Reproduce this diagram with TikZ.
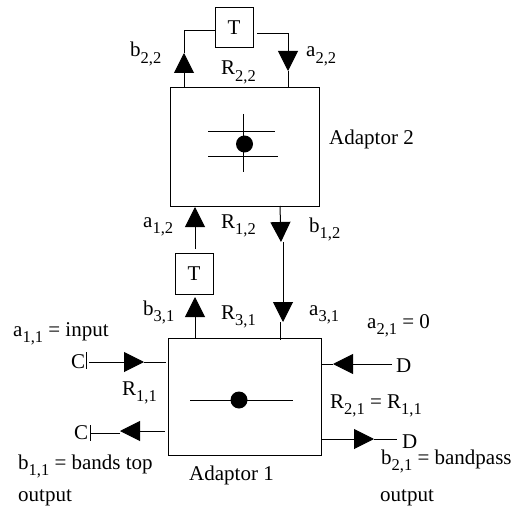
\documentclass[tikz,border=0pt]{standalone}
\usepackage{fontspec}
\setmainfont{Liberation Serif}
\usetikzlibrary{arrows.meta}
\def\subidx#1{\raisebox{-6.5pt}{\fontsize{16.5}{16.5}\selectfont #1}}
\tikzset{
	wire/.style={line width=1pt},
	signal/.style={wire, -{Triangle[length=20pt,width=20pt]}},
	adaptor/.style={draw, line width=1pt, inner sep=0pt, outer sep=0pt},
	delaybox/.style={adaptor, minimum width=38pt, minimum height=40pt, font=\fontsize{21}{21}\selectfont},
	lbl/.style={anchor=base west, inner sep=0pt, font=\fontsize{21}{21}\selectfont},
	hub/.style={circle, fill=black, inner sep=0pt, minimum size=17pt}
}

\begin{document}
\begin{tikzpicture}[x=1pt,y=-1pt]
	\useasboundingbox (0,0) rectangle (511,508);

	\node[adaptor, minimum width=149pt, minimum height=118pt] (adaptor2) at (244.5,147) {};
	\node[adaptor, minimum width=153pt, minimum height=117pt] (adaptor1) at (244.5,396.5) {};
	\node[delaybox] (topdelay) at (234,28) {T};
	\node[delaybox, minimum height=41pt] (middelay) at (194,273.5) {T};

	% top loop
	\coordinate (b22foot) at (184,88);
	\coordinate (b22tip) at (184,53);
	\coordinate (b22corner) at (184,31);
	\coordinate (a22start) at (257,33.5);
	\coordinate (a22corner) at (288,33.5);
	\coordinate (a22tip) at (288,71);
	\coordinate (a22foot) at (288,88);
	\draw[signal] (b22foot) -- (b22tip);
	\draw[wire] (b22tip) -- (b22corner) -- (topdelay.west |- b22corner);
	\draw[signal] (a22start) -- (a22corner) -- (a22tip);
	\draw[wire] (a22tip) -- (a22foot);

	% adaptor 2 symbol
	\node[hub] (hub2) at (244.5,144) {};
	\coordinate (bara) at (208,132);
	\coordinate (barb) at (275,132);
	\coordinate (barc) at (208,156);
	\coordinate (bard) at (278,156);
	\coordinate (bare) at (243,114);
	\coordinate (barf) at (243,172);
	\draw[wire] (bara) -- (barb);
	\draw[wire] (barc) -- (bard);
	\draw[wire] (bare) -- (barf);

	% between the adaptors
	\coordinate (a12start) at (195,249);
	\coordinate (a12tip) at (195,207);
	\coordinate (b31start) at (195,338);
	\coordinate (b31tip) at (195,297);
	\draw[signal] (a12start) -- (a12tip);
	\draw[signal] (b31start) -- (b31tip);

	\coordinate (b12start) at (280,206);
	\coordinate (b12tip) at (281,242);
	\coordinate (a31start) at (283,242);
	\coordinate (a31tip) at (283,322);
	\coordinate (a31jog) at (280,322);
	\coordinate (a31foot) at (280,340);
	\draw[signal] (b12start) -- (b12tip);
	\draw[signal] (a31start) -- (a31tip);
	\draw[wire] (a31jog) -- (a31foot);

	% adaptor 1 symbol
	\node[hub] (hub1) at (239,400) {};
	\coordinate (barg) at (190,400);
	\coordinate (barh) at (293,400);
	\draw[wire] (barg) -- (barh);

	% left ports
	\coordinate (a11start) at (89,362);
	\coordinate (a11tip) at (144,362);
	\coordinate (a11foot) at (166,362);
	\draw[signal] (a11start) -- (a11tip);
	\draw[wire] (a11tip) -- (a11foot);
	\coordinate (tickc) at (86,352);
	\coordinate (tickd) at (86,369);
	\draw[wire] (tickc) -- (tickd);

	\coordinate (b11start) at (165,431);
	\coordinate (b11tip) at (120,431);
	\coordinate (b11jog) at (120,433.5);
	\coordinate (b11end) at (90,433.5);
	\draw[signal] (b11start) -- (b11tip);
	\draw[wire] (b11jog) -- (b11end);
	\coordinate (ticke) at (90,425);
	\coordinate (tickf) at (90,441);
	\draw[wire] (ticke) -- (tickf);

	% right ports
	\coordinate (a21start) at (392,364);
	\coordinate (a21tip) at (333,364);
	\coordinate (a21foot) at (321,364);
	\draw[signal] (a21start) -- (a21tip);
	\draw[wire] (a21tip) -- (a21foot);

	\coordinate (b21start) at (321,439);
	\coordinate (b21tip) at (374,439);
	\coordinate (b21end) at (397,439);
	\draw[signal] (b21start) -- (b21tip);
	\draw[wire] (b21tip) -- (b21end);

	% labels
	\node[lbl] (lb22) at (130,57) {b\subidx{2,2}};
	\node[lbl] (la22) at (306,57) {a\subidx{2,2}};
	\node[lbl] (lr22) at (221,75) {R\subidx{2,2}};
	\node[lbl] (lad2) at (329,145) {Adaptor 2};
	\node[lbl] (la12) at (143,227) {a\subidx{1,2}};
	\node[lbl] (lr12) at (221,228) {R\subidx{1,2}};
	\node[lbl] (lb12) at (309,232) {b\subidx{1,2}};
	\node[lbl] (lb31) at (143,315) {b\subidx{3,1}};
	\node[lbl] (lr31) at (221,319) {R\subidx{3,1}};
	\node[lbl] (la31) at (309,315) {a\subidx{3,1}};
	\node[lbl] (la11) at (13,336) {a\subidx{1,1} = input};
	\node[lbl] (lc1) at (71,368) {C};
	\node[lbl] (lr11) at (122,395) {R\subidx{1,1}};
	\node[lbl] (lc2) at (74,439) {C};
	\node[lbl] (lb11) at (18,469) {b\subidx{1,1} = bands top};
	\node[lbl] (lout1) at (18,501) {output};
	\node[lbl] (lad1) at (189,480) {Adaptor 1};
	\node[lbl] (la21) at (367,328) {a\subidx{2,1} = 0};
	\node[lbl] (ld1) at (396,372) {D};
	\node[lbl] (lr21) at (330,408) {R\subidx{2,1} = R\subidx{1,1}};
	\node[lbl] (ld2) at (402,448) {D};
	\node[lbl] (lb21) at (381,464) {b\subidx{2,1} = bandpass};
	\node[lbl] (lout2) at (380,501) {output};
\end{tikzpicture}
\end{document}
